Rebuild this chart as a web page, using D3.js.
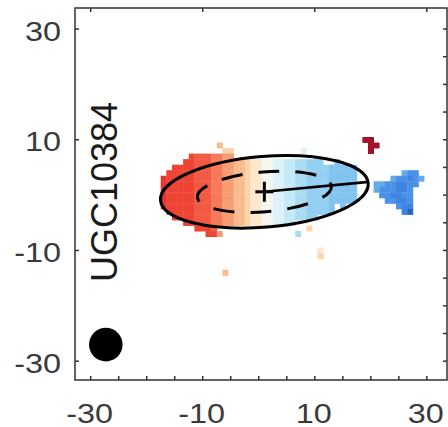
<!DOCTYPE html>
<html><head><meta charset="utf-8">
<script src="https://cdn.jsdelivr.net/npm/d3@7"></script>
<style>html,body{margin:0;padding:0;background:#fff}svg{display:block}</style>
</head><body>
<svg id="chart" width="448" height="427"></svg>
<script>
// ---------- data ----------
const xTickLabels = [-30, -10, 10, 30];
const yTickLabels = [30, 10, -10, -30];
const minorTicks = [-30, -25, -20, -15, -10, -5, 0, 5, 10, 15, 20, 25, 30];
const galaxyName = "UGC10384";

// velocity (km/s) for each map code
const velocityCodes = ["R", "1", "2", "3", "4", "5", "6", "7", "8", "9", "a", "b", "c", "d", "e", "f", "g", "h", "i"];
const velocityValues = [-250, -175, -160, -135, -110, -85, -60, -38, -18, 0, 20, 40, 60, 80, 100, 130, 160, 180, 210];

// velocity map: [row y (arcsec), first column x (arcsec), codes per 1" spaxel]
const mapSegments = [
  [10, 19, "RR"],
  [9, -7, "6"], [9, 20, "RR"],
  [8, -6, "77"], [8, 8, "a"], [8, 20, "R"],
  [7, -12, "23334455"],
  [6, -13, "2233344556678899aabbccddd"], [6, 14, "e"],
  [5, -15, "2222333445566788" + "99aabbccddddeeeee"],
  [4, -16, "22222333445566788" + "99aabbccddddeeeee"], [4, 26, "fgg"],
  [3, -17, "122222333445566788" + "99aabbccddddeeeee"], [3, 24, "fgghgf"],
  [2, -17, "122222333445566788" + "99aabbccddddeeeee"], [2, 21, "ffgghhgg"],
  [1, -17, "122222333445566788" + "99aabbccddddeeeee"], [1, 21, "fggghhg"],
  [0, -17, "122222333445566788" + "99aabbccddddeeeee"], [0, 22, "gghhgg"],
  [-1, -17, "122222333445566788" + "99aabbccddddeeeee"], [-1, 23, "gghhg"],
  [-2, -17, "122222333445566788" + "99aabbccdddde"], [-2, 15, "e"], [-2, 25, "ghh"],
  [-3, -16, "22222333445566788" + "99aabbccdddde"], [-3, 26, "hi"],
  [-4, -15, "2222333445566788" + "99aabbccdd"],
  [-5, -13, "22333445566788" + "99aabb"],
  [-6, -11, "2223"], [-6, 9, "7"],
  [-7, -9, "225"], [-7, 7, "c"],
  [-10, 11, "8"], [-11, 11, "7"],
  [-14, -6, "6"]
];

// kinematic model (arcsec / degrees)
const kinCenter = [1.0, 0.6];
const outerEllipse = [18.6, 6.4, 4.7];   // semi-major, semi-minor, tilt
const innerEllipse = [12.0, 3.6, 4.7];
const majorAxisLine = [18.7, 5.5];        // length, angle
const beam = [-27.3, -27.0, 3.0];         // x, y, radius

// ---------- drawing ----------
const svg = d3.select("#chart");
const x = d3.scaleLinear().domain([-32.8, 33.6]).range([75, 447]);
const y = d3.scaleLinear().domain([-33.4, 33.8]).range([380, 8]);
const kx = x(1) - x(0), ky = y(0) - y(1);

const codeToVel = new Map(velocityCodes.map((c, i) => [c, velocityValues[i]]));
const color = d3.scaleLinear()
  .domain([-250, -175, -160, -135, -110, -85, -60, -38, -18, 0, 20, 40, 60, 80, 100, 130, 160, 180, 210])
  .range(["#a3122b", "#e5342b", "#ee4436", "#f25a43", "#f5795a", "#f79c70", "#f9ba8c", "#fcd3aa", "#fde8cc",
          "#f5f7ef", "#ddf2f8", "#c4e9f7", "#aadcf4", "#94d0f2", "#82c4ef", "#63aaea", "#4a92e8", "#3e84e2", "#2b62c8"])
  .clamp(true);

const cells = [];
mapSegments.forEach(([ry, x0, codes]) => {
  for (let k = 0; k < codes.length; k++) {
    const ch = codes[k];
    if (ch === ".") continue;
    cells.push({ cx: x0 + k, cy: ry, v: codeToVel.get(ch) });
  }
});

svg.append("g").selectAll("rect").data(cells).join("rect")
  .attr("x", d => x(d.cx - 0.5))
  .attr("y", d => y(d.cy + 0.5))
  .attr("width", d => x(d.cx + 0.5) - x(d.cx - 0.5) + 0.4)
  .attr("height", d => y(d.cy - 0.5) - y(d.cy + 0.5) + 0.4)
  .attr("fill", d => color(d.v));

const cxp = x(kinCenter[0]), cyp = y(kinCenter[1]);
const ell = svg.append("g");
ell.append("ellipse")
  .attr("cx", cxp).attr("cy", cyp)
  .attr("rx", outerEllipse[0] * kx).attr("ry", outerEllipse[1] * ky)
  .attr("transform", `rotate(${-outerEllipse[2]},${cxp},${cyp})`)
  .attr("fill", "none").attr("stroke", "#000").attr("stroke-width", 3);
ell.append("ellipse")
  .attr("cx", cxp).attr("cy", cyp)
  .attr("rx", innerEllipse[0] * kx).attr("ry", innerEllipse[1] * ky)
  .attr("transform", `rotate(${-innerEllipse[2]},${cxp},${cyp})`)
  .attr("fill", "none").attr("stroke", "#000").attr("stroke-width", 3)
  .attr("stroke-dasharray", "21,16").attr("stroke-dashoffset", 6);
const ang = majorAxisLine[1] * Math.PI / 180;
ell.append("line")
  .attr("x1", cxp).attr("y1", cyp)
  .attr("x2", x(kinCenter[0] + majorAxisLine[0] * Math.cos(ang)))
  .attr("y2", y(kinCenter[1] + majorAxisLine[0] * Math.sin(ang)))
  .attr("stroke", "#000").attr("stroke-width", 2.6);
ell.append("line").attr("x1", cxp - 9).attr("x2", cxp + 9).attr("y1", cyp).attr("y2", cyp)
  .attr("stroke", "#000").attr("stroke-width", 3);
ell.append("line").attr("x1", cxp).attr("x2", cxp).attr("y1", cyp - 10).attr("y2", cyp + 10)
  .attr("stroke", "#000").attr("stroke-width", 3);

// beam
svg.append("circle").attr("cx", x(beam[0])).attr("cy", y(beam[1]))
  .attr("r", beam[2] * kx).attr("fill", "#000");

// frame
const frame = svg.append("g").attr("stroke", "#333").attr("stroke-width", 1.5).attr("fill", "none");
frame.append("rect").attr("x", 75).attr("y", 8).attr("width", 372).attr("height", 372);
const tl = 4;
frame.selectAll(".bt").data(minorTicks).join("line").attr("class", "bt")
  .attr("x1", d => x(d)).attr("x2", d => x(d)).attr("y1", 380).attr("y2", 380 - tl);
frame.selectAll(".rt").data(minorTicks).join("line").attr("class", "rt")
  .attr("y1", d => y(d)).attr("y2", d => y(d)).attr("x1", 447).attr("x2", 447 - tl);
frame.selectAll(".tt").data(xTickLabels).join("line").attr("class", "tt")
  .attr("x1", d => x(d)).attr("x2", d => x(d)).attr("y1", 8).attr("y2", 8 + tl);
frame.selectAll(".lt").data(yTickLabels).join("line").attr("class", "lt")
  .attr("y1", d => y(d)).attr("y2", d => y(d)).attr("x1", 75).attr("x2", 75 + tl);

// tick labels
const fontFam = "'Liberation Sans', Arial, Helvetica, sans-serif";
const fs = 27, sx = 1.2, cap = fs * 0.72;
svg.append("g").selectAll("text").data(yTickLabels).join("text")
  .attr("transform", d => `translate(61,${y(d) + 2 + cap / 2}) scale(${sx},1)`)
  .attr("text-anchor", "end")
  .attr("font-family", fontFam).attr("font-size", fs).attr("fill", "#3a3a3a")
  .text(d => d);
svg.append("g").selectAll("text").data(xTickLabels).join("text")
  .attr("transform", d => `translate(${x(d) - 1},${413 + cap / 2}) scale(${sx},1)`)
  .attr("text-anchor", "middle")
  .attr("font-family", fontFam).attr("font-size", fs).attr("fill", "#3a3a3a")
  .text(d => d);

// galaxy name
svg.append("text")
  .attr("transform", `translate(${105 + 12},192) rotate(-90)`)
  .attr("text-anchor", "middle")
  .attr("font-family", fontFam).attr("font-size", 36).attr("fill", "#1a1a1a")
  .text(galaxyName);
</script>
</body></html>
